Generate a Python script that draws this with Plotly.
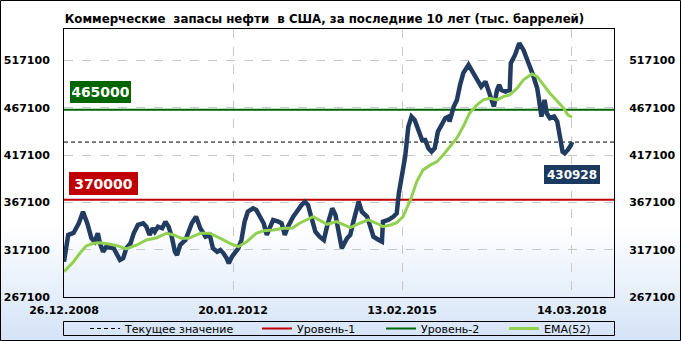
import base64
import pandas as pd
import plotly.graph_objects as go

# ---------------- data ----------------
START = "2008-12-26"
stock_weeks = [0, 4, 9, 14, 18, 22, 26, 29, 32, 34, 37, 40, 47, 50, 53, 56, 59, 63, 66, 70,
               75, 78, 81, 84, 86, 89, 93, 96, 99, 102, 105, 107, 110, 115, 118, 121, 125, 129, 134, 138,
               141, 145, 148, 151, 154, 156, 159, 162, 165, 168, 171, 174, 179, 182, 186, 189, 192, 195, 198, 203,
               206, 209, 212, 217, 222, 225, 228, 231, 234, 238, 242, 246, 249, 252, 254, 257, 260, 263, 268, 271,
               274, 276, 279, 282, 287, 290, 293, 298, 301, 302, 307, 312, 315, 317, 320, 323, 326, 329, 332, 335,
               339, 342, 345, 348, 351, 354, 358, 361, 364, 365, 369, 372, 375, 378, 383, 386, 389, 392, 395, 399,
               402, 405, 407, 410, 412, 414, 418, 422, 423, 427, 431, 435, 439, 441, 444, 448, 450, 452, 455, 457,
               460, 464, 467, 470, 472, 474, 477, 480, 481]
stock_values = [304400, 332700, 334800, 345100, 357300, 345100, 329200, 325600, 334500, 323900,
                315000, 320300, 318600, 313300, 306200, 308000, 318600, 323900, 334500, 343300,
                345100, 341500, 332700, 339800, 336200, 341500, 339800, 346800, 341500, 330900,
                315000, 311500, 322100, 327400, 336200, 345100, 352100, 339800, 330900, 332700,
                318600, 315000, 316800, 313300, 308000, 302800, 309700, 313300, 318600, 327400,
                346800, 357300, 360900, 359100, 352100, 345100, 332700, 341500, 348600, 346800,
                345100, 332700, 341500, 352100, 360900, 364400, 367900, 364400, 352100, 336200,
                330900, 327400, 341500, 353900, 360900, 353900, 334500, 318600, 329200, 332700,
                346800, 357300, 367900, 357300, 352100, 341500, 330900, 327400, 325600, 346800,
                348600, 352100, 355700, 376800, 394400, 415500, 447300, 457900, 454400, 443800,
                433200, 433200, 424400, 420800, 424400, 442000, 450900, 456200, 457900, 452600,
                468400, 475500, 491400, 503800, 512600, 507300, 500200, 496700, 489600, 494900,
                484300, 475500, 468400, 486100, 491400, 486100, 484300, 486100, 514400, 523100,
                535500, 528400, 514400, 510800, 502000, 487900, 473700, 457900, 475500, 461500,
                456200, 457900, 452600, 436700, 420800, 419100, 422600, 427900, 430928]

ema_weeks = [0, 9, 15, 21, 28, 34, 44, 51, 59, 69, 78, 88, 97, 104, 111, 118, 129, 138, 148, 157,
             165, 173, 182, 189, 198, 208, 216, 223, 236, 249, 258, 268, 271, 280, 288, 296, 302, 309, 315, 321,
             328, 334, 340, 347, 353, 359, 365, 372, 378, 384, 391, 397, 403, 410, 416, 422, 429, 435, 443, 448,
             454, 460, 466, 473, 477, 481]
ema_values = [293900, 304400, 313300, 321100, 323900, 324500, 322900, 321100, 317900, 322100,
              327400, 329800, 334500, 332700, 329200, 329200, 334500, 334500, 329200, 323900,
              320300, 325600, 334500, 337200, 338000, 339800, 339800, 345100, 352100, 344000,
              346800, 341500, 340400, 345100, 348600, 345100, 341500, 343300, 345700, 352100,
              369700, 389100, 401500, 406800, 410200, 417300, 426100, 435300, 447300, 461500,
              470200, 475500, 477300, 475500, 479000, 480800, 487900, 496700, 503000, 500200,
              491400, 482600, 475500, 466700, 459700, 457200]

level1 = 370000
level2 = 465000
current_value = 430928

tick_dates = ["2008-12-26", "2012-01-20", "2015-02-13", "2018-03-14"]
tick_labels = ["26.12.2008", "20.01.2012", "13.02.2015", "14.03.2018"]
y_ticks = [267100, 317100, 367100, 417100, 467100, 517100]
y_range = [267100, 550500]

title_text = "Коммерческие\u00a0 запасы нефти\u00a0 в США, за последние 10 лет (тыс. баррелей)"
legend_names = ["Текущее значение", "Уровень-1", "Уровень-2", "EMA(52)"]

# ---------------- derived ----------------
start = pd.Timestamp(START)
stock_dates = [start + pd.Timedelta(weeks=w) for w in stock_weeks]
ema_dates = [start + pd.Timedelta(weeks=w) for w in ema_weeks]
x_end = start + pd.Timedelta(days=3645)
x_span = [start, x_end]

NAVY = "#213c60"
RED = "#c00000"
DGREEN = "#006600"
LGREEN = "#92d050"

# plot area geometry (pixels)
W, H = 681, 341
ML, MR, MT, MB = 64, 67, 29, 44
PW, PH = W - ML - MR, H - MT - MB


def px(xp):
    return (xp - ML) / PW


def py(yp):
    return (H - MB - yp) / PH


fig = go.Figure()

fig.add_trace(go.Scatter(x=x_span, y=[level1, level1], mode="lines", name=legend_names[1],
                         line=dict(color=RED, width=2), legend="legend2", hoverinfo="skip"))
fig.add_trace(go.Scatter(x=x_span, y=[level2, level2], mode="lines", name=legend_names[2],
                         line=dict(color=DGREEN, width=2), legend="legend3", hoverinfo="skip"))
fig.add_trace(go.Scatter(x=x_span, y=[current_value, current_value], mode="lines", name=legend_names[0],
                         line=dict(color="black", width=1, dash="4px,3px"), legend="legend",
                         hoverinfo="skip"))
fig.add_trace(go.Scatter(x=stock_dates, y=stock_values, mode="lines", name="Запасы",
                         line=dict(color=NAVY, width=4.5), showlegend=False))
fig.add_trace(go.Scatter(x=ema_dates, y=ema_values, mode="lines", name=legend_names[3],
                         line=dict(color=LGREEN, width=3), legend="legend4"))
# invisible trace for the right axis
fig.add_trace(go.Scatter(x=x_span, y=y_range, mode="lines", yaxis="y2", showlegend=False,
                         line=dict(color="rgba(0,0,0,0)"), hoverinfo="skip"))

tick_font = dict(family="DejaVu Sans", size=11, color="black", weight="bold")
legend_font = dict(family="DejaVu Sans", size=11, color="black")


def legend_at(line_start):
    return dict(orientation="h", x=px(line_start - 4), xanchor="left", y=py(328.5), yanchor="middle",
                bgcolor="rgba(0,0,0,0)", borderwidth=0, itemwidth=30, font=legend_font)


fig.update_layout(
    width=W, height=H,
    margin=dict(l=ML, r=MR, t=MT, b=MB, autoexpand=False),
    paper_bgcolor="white",
    plot_bgcolor="rgba(0,0,0,0)",
    showlegend=True,
    title=dict(text=title_text, x=324.5 / W, xref="container", xanchor="center",
               y=1 - 18.5 / H, yref="container", yanchor="middle",
               font=dict(family="DejaVu Sans Condensed, Liberation Sans", size=13.1, color="black",
                         weight="bold")),
    xaxis=dict(type="date", range=x_span, tickvals=tick_dates, ticktext=tick_labels,
               showgrid=True, gridcolor="#c8c8c8", griddash="dash", gridwidth=1,
               showline=True, linecolor="black", linewidth=1, mirror=True,
               ticks="outside", ticklen=3, tickcolor="rgba(0,0,0,0)",
               tickfont=tick_font, zeroline=False),
    yaxis=dict(range=y_range, tickvals=y_ticks, ticktext=[str(v) for v in y_ticks],
               showgrid=True, gridcolor="#c8c8c8", griddash="dash", gridwidth=1,
               showline=True, linecolor="black", linewidth=1, mirror=True,
               ticks="outside", ticklen=11, tickcolor="rgba(0,0,0,0)",
               tickfont=tick_font, zeroline=False),
    yaxis2=dict(range=y_range, tickvals=y_ticks, ticktext=[str(v) for v in y_ticks],
                overlaying="y", side="right", showgrid=False, showline=False,
                ticks="outside", ticklen=12, tickcolor="rgba(0,0,0,0)",
                tickfont=tick_font, zeroline=False),
    legend=legend_at(89),
    legend2=legend_at(261),
    legend3=legend_at(385),
    legend4=legend_at(508),
)

# background gradient
svg = ("<svg xmlns='http://www.w3.org/2000/svg' width='681' height='341' viewBox='0 0 681 341' "
       "preserveAspectRatio='none'><defs><linearGradient id='g' x1='0' y1='0' x2='0' y2='1'>"
       "<stop offset='0' stop-color='#ffffff'/><stop offset='0.66' stop-color='#ffffff'/>"
       "<stop offset='1' stop-color='#d4e3f7'/></linearGradient></defs>"
       "<rect width='681' height='341' fill='url(#g)'/></svg>")
src = "data:image/svg+xml;base64," + base64.b64encode(svg.encode()).decode()
fig.add_layout_image(dict(source=src, xref="paper", yref="paper", x=px(0), y=py(0),
                          sizex=W / PW, sizey=H / PH, xanchor="left", yanchor="top",
                          sizing="stretch", layer="below"))

# outer frame and legend frame
fig.add_shape(type="rect", xref="paper", yref="paper", x0=px(0.5), x1=px(W - 0.5),
              y0=py(H - 0.5), y1=py(0.5), line=dict(color="black", width=1), layer="above")
fig.add_shape(type="rect", xref="paper", yref="paper", x0=px(63.5), x1=px(614.5),
              y0=py(335.5), y1=py(321.5), line=dict(color="black", width=1), layer="above")

# value labels
fig.add_annotation(x=px(100.5), xref="paper", xanchor="center", y=level2, yref="y", yshift=18,
                   text=str(level2), showarrow=False, bgcolor=DGREEN, borderwidth=0, borderpad=2,
                   width=57, height=18,
                   font=dict(family="DejaVu Sans", size=14, color="white", weight="bold"))
fig.add_annotation(x=px(103.5), xref="paper", xanchor="center", y=level1, yref="y", yshift=16,
                   text=str(level1), showarrow=False, bgcolor=RED, borderwidth=0, borderpad=2,
                   width=65, height=19,
                   font=dict(family="DejaVu Sans", size=14, color="white", weight="bold"))
fig.add_annotation(x=stock_dates[-1], xref="x", xanchor="center", y=current_value, yref="y",
                   yshift=-32.5, text=str(current_value), showarrow=False, bgcolor="#1b3a5f",
                   borderwidth=0, borderpad=2, width=52, height=15,
                   font=dict(family="DejaVu Sans", size=12, color="white", weight="bold"))

fig.write_html("out.html")
